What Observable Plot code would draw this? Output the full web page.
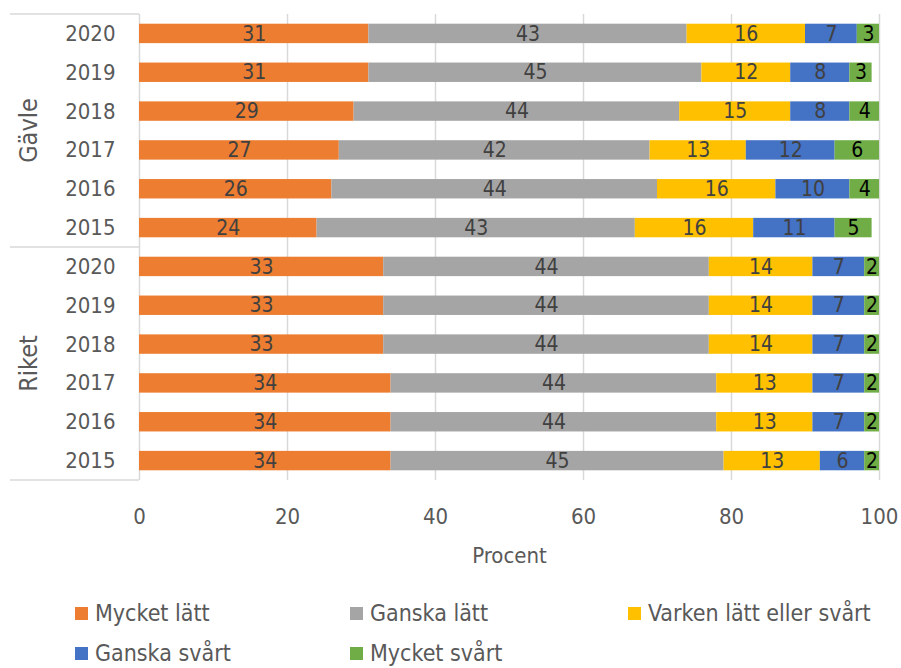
<!DOCTYPE html>
<html><head><meta charset="utf-8">
<script src="https://cdn.jsdelivr.net/npm/d3@7"></script>
<script src="https://cdn.jsdelivr.net/npm/@observablehq/plot@0.6"></script>
<style>
body{margin:0;background:#fff;font-family:"DejaVu Sans Condensed",sans-serif;}
#legend{display:grid;grid-template-columns:275px 278px auto;padding-left:75px;margin-top:23px;color:#595959;font-size:23px;}
#legend div{height:40px;display:flex;align-items:center;}
#legend span.sw{display:inline-block;width:13px;height:13px;margin-right:7px;}
</style></head>
<body><div id="chart"></div><div id="legend"></div>
<script>
const groups = ["Gävle", "Riket"];
const years = ["2020", "2019", "2018", "2017", "2016", "2015"];
const categories = ["Mycket lätt", "Ganska lätt", "Varken lätt eller svårt", "Ganska svårt", "Mycket svårt"];
const colors = ["#ED7D31", "#A5A5A5", "#FFC000", "#4472C4", "#70AD47"];
const xTicks = [0, 20, 40, 60, 80, 100];
// values per category, rows: Gävle 2020..2015, Riket 2020..2015
const mycketLatt = [31, 31, 29, 27, 26, 24, 33, 33, 33, 34, 34, 34];
const ganskaLatt = [43, 45, 44, 42, 44, 43, 44, 44, 44, 44, 44, 45];
const varken     = [16, 12, 15, 13, 16, 16, 14, 14, 14, 13, 13, 13];
const ganskaSvart= [7, 8, 8, 12, 10, 11, 7, 7, 7, 7, 7, 6];
const mycketSvart= [3, 3, 4, 6, 4, 5, 2, 2, 2, 2, 2, 2];
const series = [mycketLatt, ganskaLatt, varken, ganskaSvart, mycketSvart];

const keys = groups.flatMap(g => years.map(y => g + "|" + y));
const data = [];
categories.forEach((c, ci) => keys.forEach((k, i) => data.push({key: k, cat: c, value: series[ci][i]})));

const FONT = '"DejaVu Sans Condensed",sans-serif';
const W = 901, H = 570, ML = 139, MR = 22, MT = 14, MB = 90;

const dividers = (index, scales, values, dims) => {
  const y = scales.y;
  const half = (y.step() - y.bandwidth()) / 2;
  const ys = [y(keys[0]) - half, y(keys[6]) - half, y(keys[11]) + y.bandwidth() + half];
  const g = d3.create("svg:g");
  ys.forEach(v => g.append("line").attr("x1", 10).attr("x2", dims.marginLeft).attr("y1", v).attr("y2", v)
    .attr("stroke", "#d9d9d9").attr("stroke-width", 1.5));
  groups.forEach((gr, gi) => {
    const mid = (y(keys[gi * 6]) + y(keys[gi * 6 + 5]) + y.bandwidth()) / 2;
    g.append("text").attr("transform", `translate(28,${mid}) rotate(-90)`)
      .attr("text-anchor", "middle").attr("dy", "0.35em").attr("fill", "#595959")
      .attr("font-size", 25).attr("font-family", FONT).text(gr);
  });
  return g.node();
};

const plot = Plot.plot({
  width: W, height: H, marginLeft: ML, marginRight: MR, marginTop: MT, marginBottom: MB,
  style: {fontFamily: FONT, fontSize: "22px", color: "#595959", background: "#fff"},
  x: {domain: [0, 100]},
  y: {domain: keys, paddingInner: 0.5, paddingOuter: 0.25, round: false},
  color: {domain: categories, range: colors},
  marks: [
    Plot.gridX(xTicks, {stroke: "#d9d9d9", strokeOpacity: 1, strokeWidth: 1.5}),
    Plot.axisX({ticks: xTicks, tickSize: 0, tickPadding: 28, label: "Procent", labelAnchor: "center", labelArrow: "none", labelOffset: 82}),
    Plot.axisY({tickSize: 0, tickPadding: 24, tickFormat: k => k.split("|")[1], label: null}),
    Plot.barX(data, Plot.stackX({x: "value", y: "key", fill: "cat", z: "cat"})),
    Plot.text(data, Plot.stackX({x: "value", y: "key", z: "cat", text: d => String(d.value),
      fill: d => d.cat === "Mycket svårt" ? "#000" : "#404040", fontSize: 21})),
    dividers
  ]
});
document.getElementById("chart").appendChild(plot);

const leg = document.getElementById("legend");
categories.forEach((c, i) => {
  const d = document.createElement("div");
  d.innerHTML = `<span class="sw" style="background:${colors[i]}"></span>${c}`;
  leg.appendChild(d);
});
</script></body></html>
